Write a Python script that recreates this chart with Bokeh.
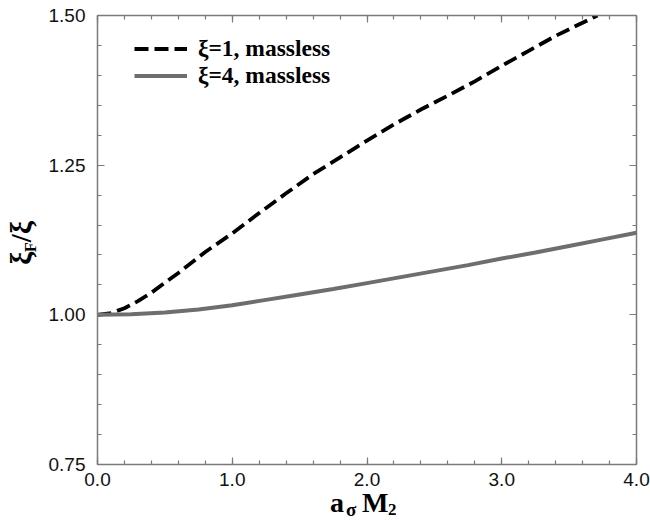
from bokeh.plotting import figure
from bokeh.models import (LinearAxis, FixedTicker, NumeralTickFormatter, Range1d,
                          Legend, LegendItem, Div, CustomJSTickFormatter)
from bokeh.layouts import row, column
from bokeh.embed import file_html
from bokeh.resources import INLINE

# ---- data ----
x_xi1 = [0.0, 0.1, 0.2, 0.3, 0.4, 0.6, 0.8, 1.0, 1.2, 1.4, 1.6, 1.8, 2.0, 2.2, 2.4,
         2.6, 2.8, 3.0, 3.2, 3.4, 3.6, 3.71]
y_xi1 = [1.000, 1.003, 1.011, 1.023, 1.037, 1.070, 1.105, 1.136, 1.170, 1.203, 1.235,
         1.263, 1.291, 1.318, 1.343, 1.366, 1.390, 1.416, 1.441, 1.466, 1.488, 1.500]

x_xi4 = [0.0, 0.25, 0.5, 0.75, 1.0, 1.25, 1.5, 1.75, 2.0, 2.25, 2.5, 2.75, 3.0,
         3.25, 3.5, 3.75, 4.0]
y_xi4 = [1.000, 1.001, 1.004, 1.009, 1.016, 1.025, 1.034, 1.043, 1.053, 1.063,
         1.073, 1.083, 1.094, 1.104, 1.115, 1.126, 1.137]

x_major = [0.0, 1.0, 2.0, 3.0, 4.0]
x_minor = [round(i * 0.2, 2) for i in range(21)]
y_major = [0.75, 1.00, 1.25, 1.50]
y_minor = [round(0.75 + i * 0.05, 2) for i in range(16)]

labels = ["ξ=1, massless", "ξ=4, massless"]

AX = "#7a7a7a"
SERIF = "'Liberation Serif', 'Times New Roman', serif"

LEFT_W = 45
FIG_W, FIG_H = 650 - LEFT_W, 496

p = figure(width=FIG_W, height=FIG_H, output_backend="svg", toolbar_location=None,
           x_range=Range1d(0, 4), y_range=Range1d(0.75, 1.5),
           x_axis_location=None, y_axis_location=None,
           min_border_left=97 - LEFT_W, min_border_right=14, min_border_top=15,
           min_border_bottom=FIG_H - 464)
p.grid.visible = False
p.outline_line_color = None
p.background_fill_color = "white"
p.border_fill_color = "white"


def mk_axis(major, minor, fmt, show):
    if show:
        f = NumeralTickFormatter(format=fmt)
    else:
        f = CustomJSTickFormatter(code="return ''")
    ax = LinearAxis(ticker=FixedTicker(ticks=major, minor_ticks=minor), formatter=f)
    ax.axis_line_color = AX
    ax.axis_line_width = 1.5
    ax.major_tick_line_color = AX
    ax.minor_tick_line_color = AX
    ax.major_tick_line_width = 1.2
    ax.minor_tick_line_width = 1.2
    ax.major_tick_in = 7
    ax.major_tick_out = 0
    ax.minor_tick_in = 4
    ax.minor_tick_out = 0
    ax.major_label_text_font = "Liberation Sans"
    ax.major_label_text_color = "#111111"
    ax.major_label_text_font_size = "19px"
    if not show:
        ax.major_label_standoff = 0
    return ax


bx = mk_axis(x_major, x_minor, "0.0", True)
bx.major_label_standoff = 8
ly = mk_axis(y_major, y_minor, "0.00", True)
ly.major_label_standoff = 12
tx = mk_axis(x_major, x_minor, "0.0", False)
ry = mk_axis(y_major, y_minor, "0.00", False)
p.add_layout(bx, "below")
p.add_layout(ly, "left")
p.add_layout(tx, "above")
p.add_layout(ry, "right")

r1 = p.line(x_xi1, y_xi1, line_color="black", line_width=3.8, line_dash="14 6")
r4 = p.line(x_xi4, y_xi4, line_color="#6e6e6e", line_width=4)

legend = Legend(items=[LegendItem(label=labels[0], renderers=[r1]),
                       LegendItem(label=labels[1], renderers=[r4])],
                location=(37, 375), padding=5, margin=0, spacing=0,
                glyph_width=53, glyph_height=27, label_height=27,
                label_standoff=11, border_line_color=None,
                background_fill_alpha=0,
                label_text_font="Liberation Serif", label_text_font_style="bold",
                label_text_font_size="23.5px", label_text_color="black")
p.add_layout(legend)

# ---- axis titles as real HTML text ----
ylab_html = (
    f'<div style="position:relative;width:{LEFT_W}px;height:{FIG_H}px;">'
    f'<span style="position:absolute;left:23px;top:243px;'
    f'transform:translate(-50%,-50%) rotate(-90deg);white-space:nowrap;'
    f'font-family:{SERIF};font-weight:bold;font-size:29px;line-height:1;color:#000;">'
    f'ξ<span style="font-size:16px;vertical-align:-5px;">F</span>/ξ</span></div>'
)
div_y = Div(text=ylab_html, width=LEFT_W, height=FIG_H, margin=(0, 0, 0, 0))


def piece(txt, left, top, size):
    return (f'<span style="position:absolute;left:{left}px;top:{top}px;'
            f'font-family:{SERIF};font-weight:bold;font-size:{size}px;'
            f'line-height:{size}px;white-space:nowrap;color:#000;">{txt}</span>')


XL_H = 520 - FIG_H
xlab_html = (
    f'<div style="position:relative;width:650px;height:{XL_H}px;">'
    + piece("a", 330, -7.5, 28)
    + piece("σ", 346, 4, 19)
    + piece("M", 362, -7.5, 28)
    + piece("2", 388, 5, 17)
    + '</div>'
)
div_x = Div(text=xlab_html, width=650, height=XL_H, margin=(0, 0, 0, 0))

layout = column(row(div_y, p, spacing=0), div_x, spacing=0)

open("out.html", "w").write(file_html(layout, INLINE))
